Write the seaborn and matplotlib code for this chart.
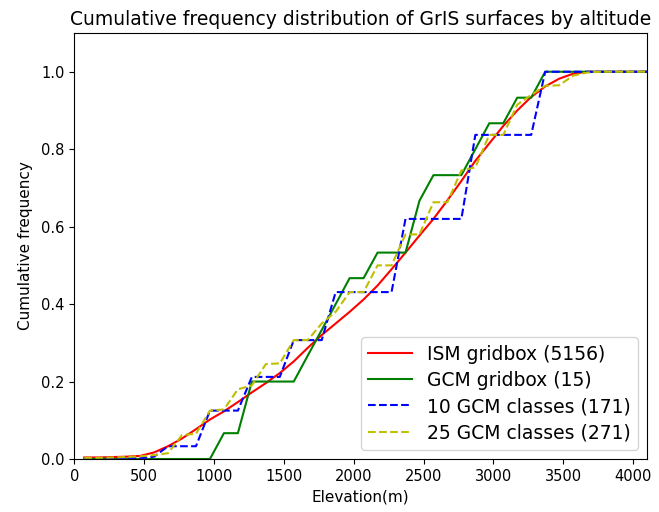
import matplotlib
matplotlib.use("Agg")
import matplotlib.pyplot as plt
import seaborn as sns
import pandas as pd

elevation = [70, 170, 270, 370, 470, 570, 670, 770, 870, 970,
             1070, 1170, 1270, 1370, 1470, 1570, 1670, 1770, 1870, 1970,
             2070, 2170, 2270, 2370, 2470, 2570, 2670, 2770, 2870, 2970,
             3070, 3170, 3270, 3370, 3470, 3570, 3670, 3770, 3870, 3970,
             4070, 4170]

ism_gridbox = [0.004, 0.004, 0.005, 0.006, 0.008, 0.017, 0.033, 0.053, 0.077, 0.102,
               0.123, 0.147, 0.172, 0.196, 0.222, 0.252, 0.287, 0.32, 0.35, 0.38,
               0.412, 0.448, 0.49, 0.533, 0.577, 0.62, 0.668, 0.718, 0.77, 0.815,
               0.86, 0.9, 0.935, 0.962, 0.982, 0.995, 1.0, 1.0, 1.0, 1.0,
               1.0, 1.0]

gcm_gridbox = [0, 0, 0, 0, 0, 0, 0, 0, 0, 0,
               0.0667, 0.0667, 0.2, 0.2, 0.2, 0.2, 0.267, 0.333, 0.4, 0.467,
               0.467, 0.533, 0.533, 0.533, 0.667, 0.733, 0.733, 0.733, 0.8, 0.867,
               0.867, 0.933, 0.933, 1.0, 1.0, 1.0, 1.0, 1.0, 1.0, 1.0,
               1.0, 1.0]

gcm_10_classes = [0.002, 0.002, 0.002, 0.002, 0.002, 0.006, 0.033, 0.033, 0.033, 0.125,
                  0.125, 0.125, 0.212, 0.212, 0.212, 0.307, 0.307, 0.307, 0.431, 0.431,
                  0.431, 0.431, 0.431, 0.62, 0.62, 0.62, 0.62, 0.62, 0.837, 0.837,
                  0.837, 0.837, 0.837, 1.0, 1.0, 1.0, 1.0, 1.0, 1.0, 1.0,
                  1.0, 1.0]

gcm_25_classes = [0.003, 0.003, 0.004, 0.005, 0.007, 0.01, 0.015, 0.062, 0.065, 0.125,
                  0.128, 0.18, 0.19, 0.245, 0.247, 0.307, 0.307, 0.35, 0.38, 0.431,
                  0.431, 0.5, 0.5, 0.58, 0.58, 0.663, 0.663, 0.745, 0.753, 0.837,
                  0.837, 0.915, 0.94, 0.964, 0.965, 0.99, 0.998, 1.0, 1.0, 1.0,
                  1.0, 1.0]

labels = ["ISM gridbox (5156)", "GCM gridbox (15)",
          "10 GCM classes (171)", "25 GCM classes (271)"]
colors = ["r", "g", "b", "y"]
styles = ["-", "-", "--", "--"]
series = [ism_gridbox, gcm_gridbox, gcm_10_classes, gcm_25_classes]

plt.rcParams["font.size"] = 11

fig, ax = plt.subplots(figsize=(6.59, 5.12), dpi=100)
fig.subplots_adjust(left=0.113, right=0.982, top=0.9355, bottom=0.1035)

for lab, col, ls, vals in zip(labels, colors, styles, series):
    df = pd.DataFrame({"Elevation": elevation, "freq": vals})
    sns.lineplot(data=df, x="Elevation", y="freq", ax=ax, color=col,
                 linestyle=ls, linewidth=1.5, label=lab, sort=False,
                 estimator=None)

ax.set_xlim(0, 4100)
ax.set_ylim(0, 1.1)
ax.set_xlabel("Elevation(m)", fontsize=11)
ax.set_ylabel("Cumulative frequency", fontsize=11, labelpad=6)
ax.set_title("Cumulative frequency distribution of GrIS surfaces by altitude",
             fontsize=13.5)
ax.tick_params(labelsize=10.5)
ax.legend(loc="lower right", fontsize=13.5, labelspacing=0.38,
          handlelength=2.3)

fig.savefig("out.png", dpi=100)
